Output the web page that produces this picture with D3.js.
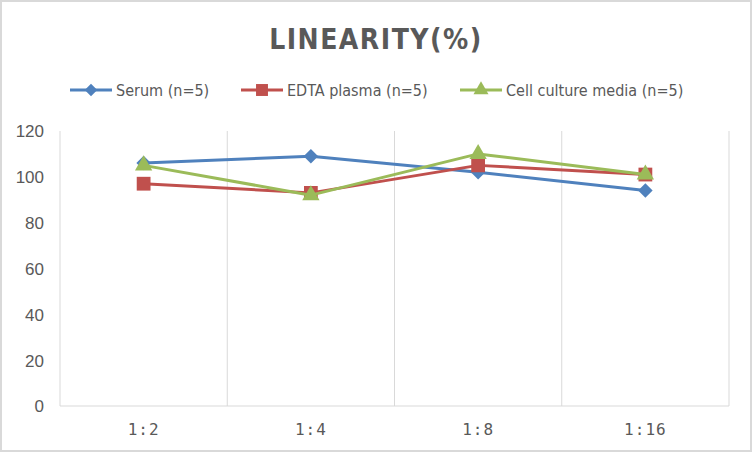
<!DOCTYPE html>
<html>
<head>
<meta charset="utf-8">
<script src="https://cdn.jsdelivr.net/npm/d3@7"></script>
<style>
	body { margin: 0; background: #fff; }
	svg text { font-family: "DejaVu Sans Condensed", "Liberation Sans", sans-serif; fill: #595959; }
</style>
</head>
<body>
<div id="chart"></div>
<script>
"use strict";

const categories = ['1:2', '1:4', '1:8', '1:16'];
const serum = [106, 109, 102, 94];
const edta = [97, 93, 105, 101];
const cellMedia = [105, 92, 110, 101];
const yTicks = [0, 20, 40, 60, 80, 100, 120];

const seriesNames = ['Serum (n=5)', 'EDTA plasma (n=5)', 'Cell culture media (n=5)'];
const seriesColors = ['#4f81bd', '#c0504d', '#9bbb59'];
const seriesShapes = ['diamond', d3.symbolSquare, d3.symbolTriangle];
const seriesSizes = [105, 190, 130];

const W = 752, H = 452;
const M = { left: 60, right: 23, top: 131, bottom: 46 };

const series = [serum, edta, cellMedia].map((values, i) => ({
	name: seriesNames[i], color: seriesColors[i], shape: seriesShapes[i], size: seriesSizes[i], values
}));

// excel style diamond = square turned 45deg
function marker(s, scale) {
	const type = s.shape === 'diamond' ? d3.symbolSquare : s.shape;
	return d3.symbol().type(type).size(s.size * scale)();
}
const rot = s => s.shape === 'diamond' ? ' rotate(45)' : '';

let svg = d3.select('#chart')
	.append('svg')
	.attr('width', W)
	.attr('height', H);

// chart border
svg.append('rect')
	.attr('x', 1).attr('y', 1)
	.attr('width', W - 2).attr('height', H - 2)
	.attr('fill', '#fff')
	.attr('stroke', '#d9d9d9')
	.attr('stroke-width', 2);

const x = d3.scaleBand()
	.domain(categories)
	.range([M.left, W - M.right]);

const y = d3.scaleLinear()
	.domain([0, 120])
	.range([H - M.bottom, M.top]);

// vertical gridlines between categories
const bounds = categories.map(c => x(c)).concat([x.range()[1]]);
svg.append('g')
	.selectAll('line')
	.data(bounds)
	.enter().append('line')
	.attr('x1', d => d).attr('x2', d => d)
	.attr('y1', y(120)).attr('y2', y(0))
	.attr('stroke', '#d9d9d9')
	.attr('stroke-width', 1);

// baseline
svg.append('line')
	.attr('x1', x.range()[0]).attr('x2', x.range()[1])
	.attr('y1', y(0)).attr('y2', y(0))
	.attr('stroke', '#d9d9d9')
	.attr('stroke-width', 1);

// y axis labels
const yAxis = svg.append('g')
	.attr('transform', `translate(${M.left - 16},0)`)
	.call(d3.axisLeft(y).tickValues(yTicks).tickSize(0).tickPadding(0));
yAxis.select('.domain').remove();
yAxis.selectAll('text')
	.attr('font-size', 17)
	.attr('fill', '#595959')
	.style('font-family', '"Liberation Sans", sans-serif')
	.attr('dy', '0.35em');

// x axis labels
const xAxis = svg.append('g')
	.attr('transform', `translate(0,${y(0)})`)
	.call(d3.axisBottom(x).tickSize(0).tickPadding(18));
xAxis.select('.domain').remove();
xAxis.selectAll('text')
	.attr('font-size', 16)
	.attr('fill', '#595959')
	.style('font-family', '"DejaVu Sans Mono", monospace')
	.style('letter-spacing', '1px');

const cx = c => x(c) + x.bandwidth() / 2;

const line = d3.line()
	.x((d, i) => cx(categories[i]))
	.y(d => y(d));

series.forEach(s => {
	svg.append('path')
		.attr('d', line(s.values))
		.attr('fill', 'none')
		.attr('stroke', s.color)
		.attr('stroke-width', 3)
		.attr('stroke-linejoin', 'round');

	svg.selectAll(null)
		.data(s.values)
		.enter().append('path')
		.attr('d', marker(s, 1))
		.attr('transform', (d, i) => `translate(${cx(categories[i])},${y(d)})` + rot(s))
		.attr('fill', s.color);
});

// title
svg.append('text')
	.attr('x', 376)
	.attr('y', 49)
	.attr('text-anchor', 'middle')
	.attr('font-size', 28)
	.attr('font-weight', 'bold')
	.style('letter-spacing', '1.5px')
	.text('LINEARITY(%)');

// legend
const legendX = [70, 241, 460];
const legend = svg.append('g');
series.forEach((s, i) => {
	const g = legend.append('g').attr('transform', `translate(${legendX[i]},90)`);
	g.append('line')
		.attr('x1', 0).attr('x2', 42)
		.attr('stroke', s.color)
		.attr('stroke-width', 3);
	g.append('path')
		.attr('d', marker(s, 0.75))
		.attr('transform', 'translate(21,0)' + rot(s))
		.attr('fill', s.color);
	g.append('text')
		.attr('x', 46)
		.attr('dy', '0.35em')
		.attr('font-size', 16)
		.text(s.name);
});
</script>
</body>
</html>
